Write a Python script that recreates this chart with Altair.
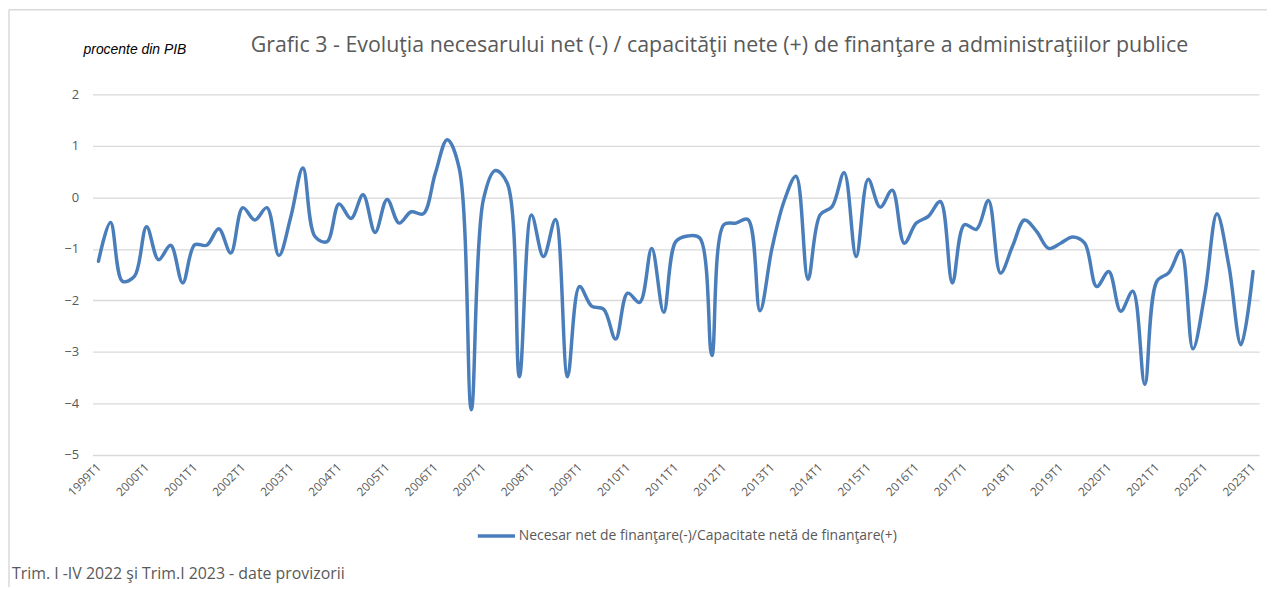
import altair as alt
import pandas as pd

years = list(range(1999, 2024))
quarters = [f"{y}T{q}" for y in years for q in (1, 2, 3, 4)][:97]
tick_labels = [f"{y}T1" for y in years]

values = [
    -1.24, -0.49, -1.63, -1.53,
    -0.57, -1.21, -0.93, -1.66,
    -0.92, -0.93, -0.61, -1.08,
    -0.20, -0.44, -0.20, -1.13,
    -0.37, 0.57, -0.76, -0.86,
    -0.13, -0.41, 0.05, -0.68,
    -0.04, -0.50, -0.28, -0.32,
    0.46, 1.12, 0.56, -4.12,
    -0.05, 0.52, 0.27, -3.48,
    -0.34, -1.15, -0.43, -3.48,
    -1.73, -2.11, -2.17, -2.75,
    -1.86, -2.04, -0.99, -2.23,
    -0.86, -0.75, -0.79, -3.07,
    -0.53, -0.50, -0.43, -2.20,
    -0.99, -0.08, 0.41, -1.59,
    -0.34, -0.18, 0.48, -1.15,
    0.35, -0.19, 0.14, -0.89,
    -0.50, -0.37, -0.08, -1.66,
    -0.53, -0.62, -0.06, -1.47,
    -0.95, -0.44, -0.66, -0.99,
    -0.89, -0.77, -0.89, -1.73,
    -1.44, -2.21, -1.82, -3.63,
    -1.63, -1.46, -1.03, -2.94,
    -1.86, -0.32, -1.34, -2.86,
    -1.44,
]

series_name = "Necesar net de finanţare(-)/Capacitate netă de finanţare(+)"
title_text = "Grafic 3 - Evoluţia necesarului  net (-) / capacităţii nete (+) de finanţare a administraţiilor publice"
unit_text = "procente din PIB"
foot_text = "Trim. I -IV 2022 şi Trim.I 2023 - date provizorii"

df = pd.DataFrame({"q": quarters, "v": values, "s": [series_name] * len(values)})

W, H = 1174, 363
FONT = "Open Sans"
GREY = "#595959"

line = alt.Chart(df).mark_line(
    interpolate="catmull-rom", strokeWidth=3.5, strokeCap="round", strokeJoin="round"
).encode(
    x=alt.X("q:N", sort=quarters, scale=alt.Scale(type="point", padding=0.5),
            axis=alt.Axis(values=tick_labels, labelAngle=-45, labelAlign="right",
                          labelBaseline="middle", labelPadding=10, ticks=False,
                          domain=False, grid=False, title=None,
                          labelFont=FONT, labelFontSize=12, labelColor=GREY)),
    y=alt.Y("v:Q", scale=alt.Scale(domain=[-5, 2], nice=False),
            axis=alt.Axis(values=[-5, -4, -3, -2, -1, 0, 1, 2], title=None,
                          ticks=False, domain=False, grid=True, gridColor="#d9d9d9",
                          gridWidth=1.3, labelPadding=14, labelFont=FONT,
                          labelFontSize=13, labelColor=GREY)),
    color=alt.Color("s:N", scale=alt.Scale(range=["#4a7ebb"]),
                    legend=alt.Legend(title=None, orient="none", legendX=386, legendY=424,
                                      symbolType="stroke", symbolSize=1400,
                                      symbolStrokeWidth=3.5, labelOffset=2, labelLimit=0,
                                      labelFont=FONT, labelFontSize=14,
                                      labelColor=GREY)),
)

title = alt.Chart(pd.DataFrame({"t": [title_text]})).mark_text(
    font=FONT, fontSize=21.5, color=GREY, align="center", baseline="middle"
).encode(x=alt.value(631), y=alt.value(-49), text="t:N")

unit = alt.Chart(pd.DataFrame({"t": [unit_text]})).mark_text(
    font="Liberation Sans", fontSize=14, fontStyle="italic", color="#000000",
    align="left", baseline="middle"
).encode(x=alt.value(-9), y=alt.value(-45), text="t:N")

foot = alt.Chart(pd.DataFrame({"t": [foot_text]})).mark_text(
    font=FONT, fontSize=16, color=GREY, align="left", baseline="middle"
).encode(x=alt.value(-81), y=alt.value(483), text="t:N")

border_top = alt.Chart(pd.DataFrame({"a": [0]})).mark_rule(color="#d9d9d9", strokeWidth=1.5).encode(
    x=alt.value(-84), x2=alt.value(1200), y=alt.value(-85))
border_left = alt.Chart(pd.DataFrame({"a": [0]})).mark_rule(color="#d9d9d9", strokeWidth=1.5).encode(
    x=alt.value(-84), y=alt.value(-85), y2=alt.value(500))

chart = alt.layer(border_top, border_left, line, title, unit, foot).properties(
    width=W, height=H,
    autosize=alt.AutoSizeParams(type="none"),
    padding={"left": 85, "top": 85, "right": 8, "bottom": 131},
).configure_view(stroke=None)

chart.save("out.html", embed_options={"renderer": "svg", "actions": False})
